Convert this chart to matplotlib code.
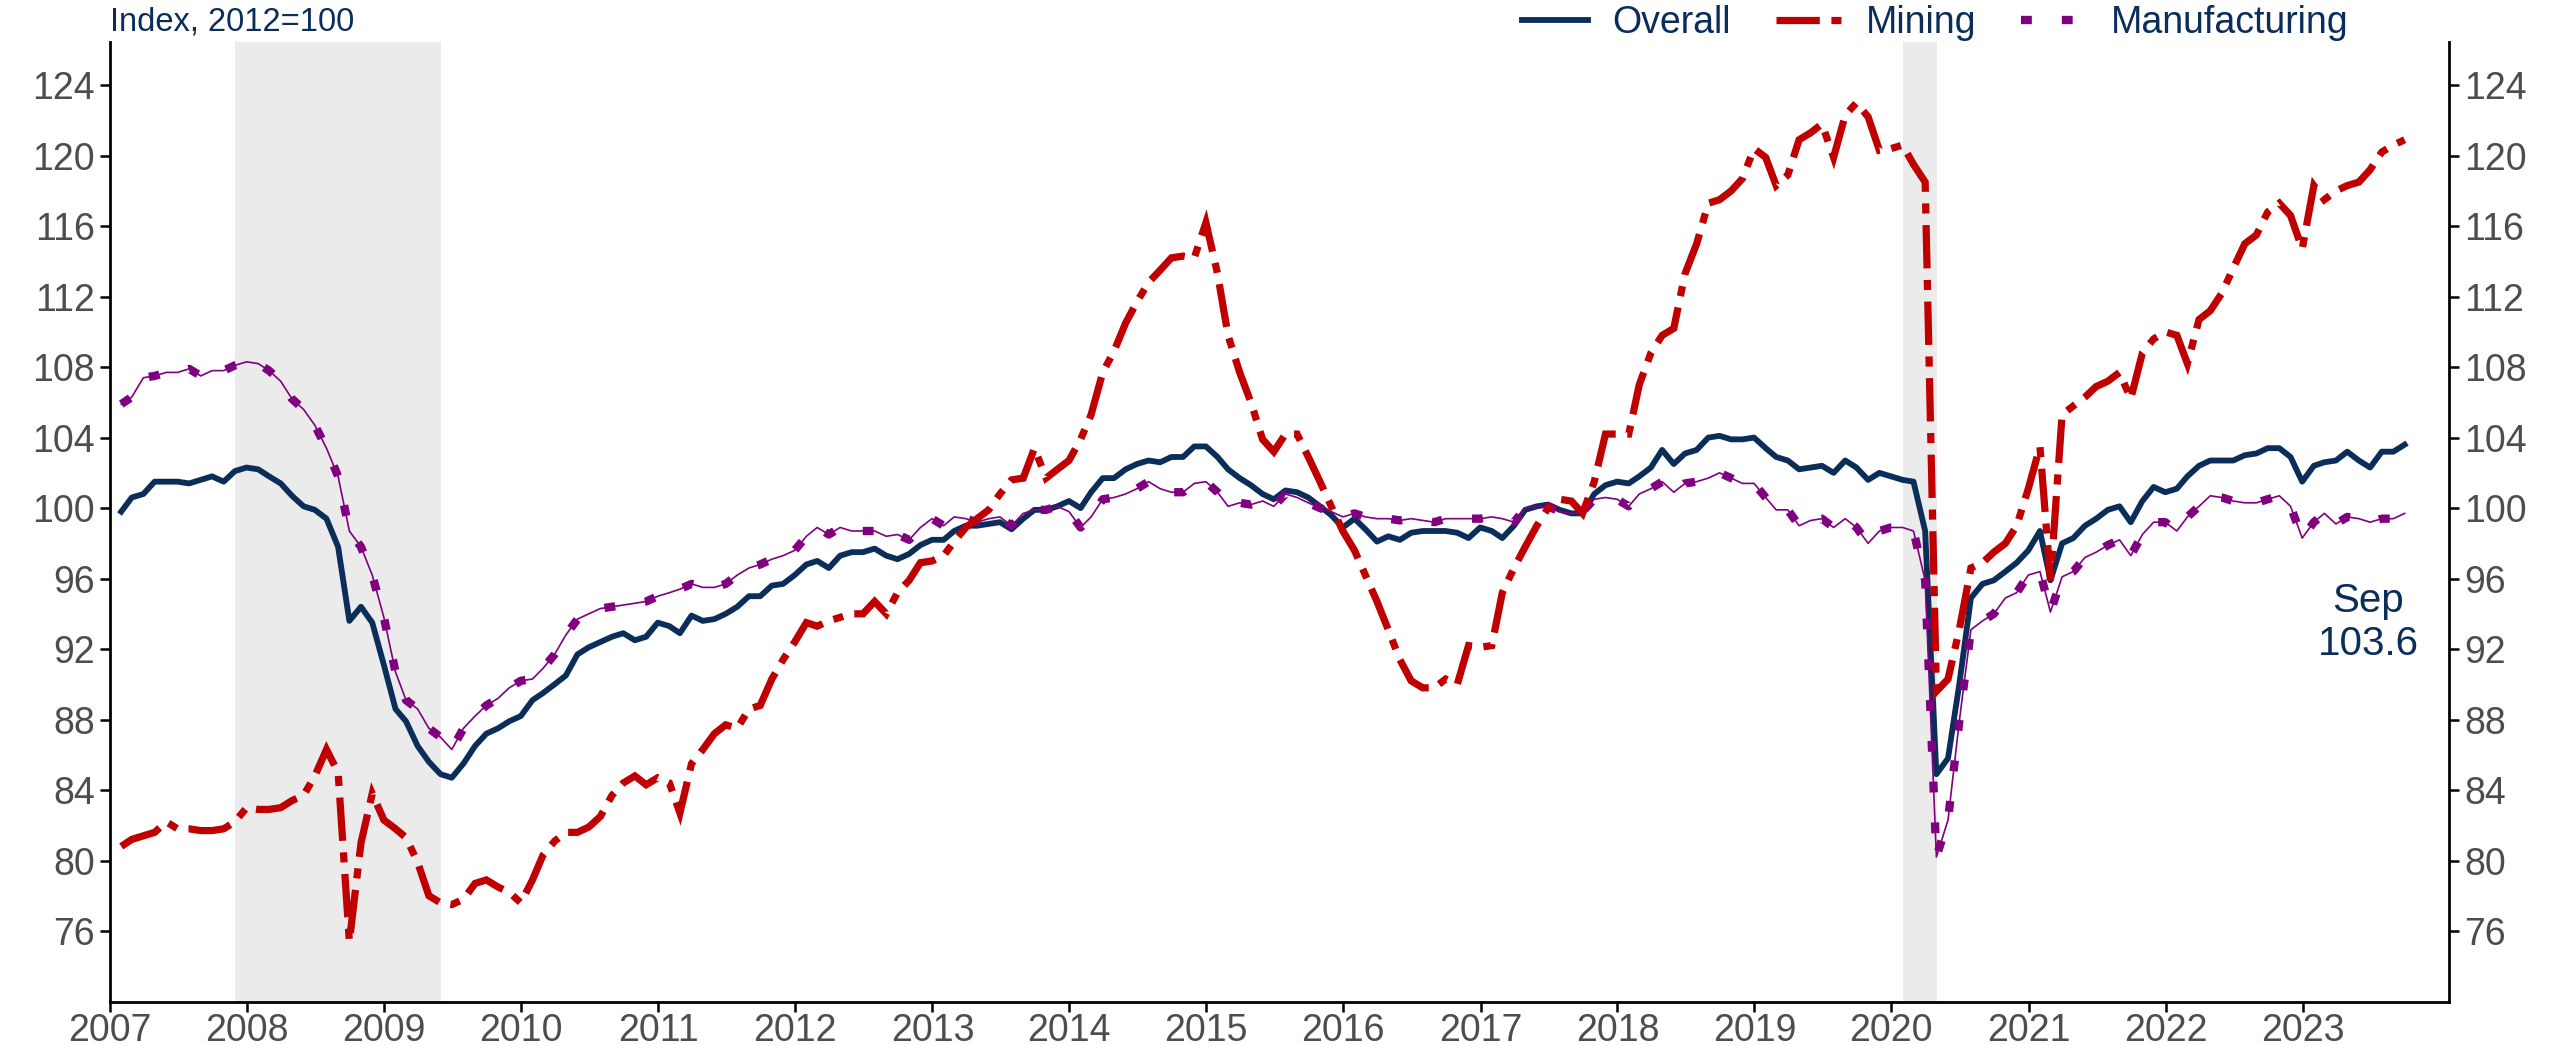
import matplotlib
matplotlib.use("Agg")
import matplotlib.pyplot as plt
import matplotlib.dates as mdates
import pandas as pd

# ---------------- data (monthly, Jan 2007 - Sep 2023) ----------------
overall = [
    99.8, 100.6, 100.8, 101.5, 101.5, 101.5, 101.4, 101.6, 101.8, 101.5, 102.1, 102.3,   # 2007
    102.2, 101.8, 101.4, 100.7, 100.1, 99.9, 99.4, 97.8, 93.6, 94.4, 93.5, 91.1,        # 2008
    88.6, 87.9, 86.5, 85.6, 84.9, 84.7, 85.5, 86.5, 87.2, 87.5, 87.9, 88.2,             # 2009
    89.1, 89.5, 90.0, 90.5, 91.7, 92.1, 92.4, 92.7, 92.9, 92.5, 92.7, 93.5,             # 2010
    93.3, 92.9, 93.9, 93.6, 93.7, 94.0, 94.4, 95.0, 95.0, 95.6, 95.7, 96.2,             # 2011
    96.8, 97.0, 96.6, 97.3, 97.5, 97.5, 97.7, 97.3, 97.1, 97.4, 97.9, 98.2,             # 2012
    98.2, 98.7, 99.0, 99.0, 99.1, 99.2, 98.8, 99.4, 99.9, 99.9, 100.1, 100.4,           # 2013
    100.0, 100.9, 101.7, 101.7, 102.2, 102.5, 102.7, 102.6, 102.9, 102.9, 103.5, 103.5, # 2014
    102.9, 102.2, 101.7, 101.3, 100.8, 100.5, 101.0, 100.9, 100.6, 100.1, 99.6, 98.9,   # 2015
    99.4, 98.8, 98.1, 98.4, 98.2, 98.6, 98.7, 98.7, 98.7, 98.6, 98.3, 98.9,             # 2016
    98.7, 98.3, 99.0, 99.9, 100.1, 100.2, 99.9, 99.7, 99.7, 100.8, 101.3, 101.5,        # 2017
    101.4, 101.8, 102.3, 103.3, 102.5, 103.1, 103.3, 104.0, 104.1, 103.9, 103.9, 104.0, # 2018
    103.4, 102.9, 102.7, 102.2, 102.3, 102.4, 102.0, 102.7, 102.3, 101.6, 102.0, 101.8, # 2019
    101.6, 101.5, 98.7, 84.9, 85.8, 90.0, 94.9, 95.7, 95.9, 96.4, 96.9, 97.6,           # 2020
    98.7, 95.9, 98.0, 98.3, 99.0, 99.4, 99.9, 100.1, 99.2, 100.4, 101.2, 100.9,         # 2021
    101.1, 101.8, 102.4, 102.7, 102.7, 102.7, 103.0, 103.1, 103.4, 103.4, 102.9, 101.5, # 2022
    102.4, 102.6, 102.7, 103.2, 102.7, 102.3, 103.2, 103.2, 103.6,                      # 2023
]

mining = [
    80.8, 81.2, 81.4, 81.6, 82.2, 81.8, 81.8, 81.7, 81.7, 81.8, 82.2, 83.0,             # 2007
    82.9, 82.9, 83.0, 83.4, 83.7, 84.8, 86.3, 85.0, 75.4, 81.0, 83.8, 82.3,             # 2008
    81.8, 81.3, 79.9, 78.0, 77.6, 77.5, 77.8, 78.7, 78.9, 78.5, 78.2, 77.6,             # 2009
    78.9, 80.3, 81.1, 81.6, 81.6, 81.9, 82.5, 83.7, 84.4, 84.8, 84.3, 84.7,             # 2010
    84.4, 82.7, 85.5, 86.3, 87.2, 87.7, 87.5, 88.6, 88.8, 90.3, 91.4, 92.4,             # 2011
    93.5, 93.3, 93.6, 93.8, 94.0, 94.0, 94.7, 94.0, 95.2, 95.9, 96.9, 97.0,             # 2012
    97.3, 98.1, 98.9, 99.4, 99.9, 100.8, 101.6, 101.7, 103.4, 101.7, 102.2, 102.7,      # 2013
    103.9, 105.3, 107.7, 108.9, 110.5, 111.7, 112.8, 113.5, 114.2, 114.3, 114.2, 116.2, # 2014
    113.3, 109.8, 107.7, 106.0, 103.9, 103.2, 104.2, 104.2, 102.9, 101.5, 100.1, 98.7,  # 2015
    97.6, 96.2, 94.7, 93.1, 91.4, 90.2, 89.8, 89.8, 90.3, 90.0, 92.2, 92.1,             # 2016
    92.2, 95.2, 96.6, 97.8, 99.0, 100.0, 100.5, 100.4, 99.7, 101.5, 104.2, 104.2,       # 2017
    104.2, 107.0, 108.8, 109.8, 110.2, 113.3, 115.0, 117.3, 117.5, 118.0, 118.7, 120.4, # 2018
    119.9, 118.3, 118.9, 120.9, 121.3, 121.8, 119.9, 122.3, 123.0, 122.2, 120.3, 120.4, # 2019
    120.6, 119.5, 118.5, 89.6, 90.3, 93.1, 96.6, 96.9, 97.5, 98.0, 99.0, 101.1,         # 2020
    103.5, 95.9, 105.3, 105.8, 106.3, 106.9, 107.2, 107.7, 106.2, 108.8, 109.6, 110.0,  # 2021
    109.8, 108.2, 110.7, 111.2, 112.2, 113.6, 115.0, 115.5, 116.8, 117.3, 116.6, 114.7, # 2022
    118.3, 117.5, 118.0, 118.3, 118.5, 119.2, 120.2, 120.6, 120.9,                      # 2023
]

manufacturing = [
    105.9, 106.3, 107.4, 107.5, 107.7, 107.7, 107.9, 107.5, 107.8, 107.8, 108.1, 108.3, # 2007
    108.2, 107.8, 107.2, 106.2, 105.6, 104.7, 103.4, 101.8, 98.7, 97.8, 96.2, 93.8,     # 2008
    90.7, 89.1, 88.6, 87.5, 87.0, 86.3, 87.5, 88.2, 88.8, 89.2, 89.8, 90.2,             # 2009
    90.3, 90.9, 91.7, 92.8, 93.7, 94.0, 94.3, 94.4, 94.5, 94.6, 94.7, 95.0,             # 2010
    95.2, 95.4, 95.7, 95.5, 95.5, 95.7, 96.2, 96.6, 96.8, 97.1, 97.3, 97.6,             # 2011
    98.4, 98.9, 98.5, 98.9, 98.7, 98.7, 98.7, 98.4, 98.5, 98.2, 98.9, 99.4,             # 2012
    99.0, 99.5, 99.4, 99.2, 99.4, 99.5, 99.0, 99.7, 99.9, 99.9, 100.1, 99.8,            # 2013
    98.9, 99.5, 100.5, 100.6, 100.8, 101.1, 101.5, 101.1, 100.9, 100.9, 101.4, 101.5,   # 2014
    100.9, 100.1, 100.3, 100.2, 100.4, 100.1, 100.8, 100.6, 100.3, 100.0, 99.8, 99.5,   # 2015
    99.7, 99.5, 99.4, 99.4, 99.3, 99.4, 99.3, 99.2, 99.4, 99.4, 99.4, 99.4,             # 2016
    99.5, 99.4, 99.2, 100.0, 100.1, 100.1, 99.8, 99.7, 99.8, 100.5, 100.6, 100.5,       # 2017
    100.1, 100.8, 101.1, 101.5, 100.9, 101.4, 101.5, 101.7, 102.0, 101.7, 101.4, 101.4, # 2018
    100.6, 99.9, 99.9, 99.0, 99.3, 99.4, 98.9, 99.4, 98.9, 98.0, 98.7, 98.9,            # 2019
    98.9, 98.7, 95.9, 80.2, 82.3, 87.9, 93.1, 93.6, 94.0, 94.9, 95.2, 96.2,             # 2020
    96.4, 94.1, 96.1, 96.4, 97.2, 97.5, 97.9, 98.2, 97.3, 98.5, 99.2, 99.2,             # 2021
    98.7, 99.5, 100.1, 100.7, 100.6, 100.4, 100.3, 100.3, 100.5, 100.7, 100.1, 98.3,    # 2022
    99.2, 99.7, 99.1, 99.5, 99.4, 99.2, 99.4, 99.4, 99.7,                               # 2023
]

dates = pd.date_range("2007-01-31", periods=len(overall), freq="ME")

recessions = [("2007-12-01", "2009-06-01"), ("2020-02-01", "2020-05-01")]
year_ticks = list(range(2007, 2024))
y_ticks = list(range(76, 125, 4))
labels = ["Overall", "Mining", "Manufacturing"]
last_label = "Sep\n103.6"

# ---------------- style ----------------
NAVY = "#0B2D5A"
RED = "#C00000"
PURPLE = "#800080"
SHADE = "#EBEBEB"
GREY = "#4D4D4D"
plt.rcParams["font.family"] = ["Liberation Sans", "DejaVu Sans"]

fig = plt.figure(figsize=(25.52, 10.45), dpi=100)
ax = fig.add_axes([0.0431, 0.0411, 0.9165, 0.9189])

for s, e in recessions:
    ax.axvspan(pd.Timestamp(s), pd.Timestamp(e), color=SHADE, lw=0, zorder=1)

l_over, = ax.plot(dates, overall, color=NAVY, lw=4.2, solid_joinstyle="round", zorder=3)
ax.plot(dates, manufacturing, color=PURPLE, lw=1.2, zorder=4)
l_manu, = ax.plot(dates, manufacturing, color=PURPLE, lw=6.0,
                  linestyle=(0, (1.3, 3.6)), dash_capstyle="butt", zorder=4)
l_mine, = ax.plot(dates, mining, color=RED, lw=5.2,
                  linestyle=(0, (6.0, 1.6, 1.4, 1.6)), dash_capstyle="butt",
                  dash_joinstyle="miter", zorder=5)

ax.set_xlim(pd.Timestamp("2007-01-01"), pd.Timestamp("2024-01-26"))
ax.set_ylim(71.97, 126.46)

ax.set_xticks([pd.Timestamp(f"{y}-01-01") for y in year_ticks])
ax.xaxis.set_major_formatter(mdates.DateFormatter("%Y"))
ax.set_yticks(y_ticks)

ax.spines["top"].set_visible(False)
for side in ("left", "right", "bottom"):
    ax.spines[side].set_linewidth(2.0)
    ax.spines[side].set_color("black")

ax.yaxis.set_ticks_position("both")
ax.tick_params(axis="y", which="both", labelright=True, labelleft=True,
               length=7, width=1.8, color="black", labelsize=27,
               labelcolor=GREY, pad=4)
ax.tick_params(axis="x", length=7, width=1.8, color="black", labelsize=27,
               labelcolor=GREY, pad=1)

fig.text(0.0431, 1 - 22 / 1045, "Index, 2012=100", color=NAVY, fontsize=23.5,
         ha="left", va="center")

ax.text(pd.Timestamp("2023-06-25"), 93.5, last_label, color=NAVY, fontsize=29,
        ha="center", va="center", linespacing=1.15, zorder=6)

leg = ax.legend([l_over, l_mine, l_manu], labels, ncol=3, frameon=False,
                loc="center left", bbox_to_anchor=(1522 / 2552, 1 - 23 / 1045),
                bbox_transform=fig.transFigure, borderaxespad=0, borderpad=0,
                fontsize=27, handlelength=1.75, handletextpad=0.65,
                columnspacing=1.2)
for t in leg.get_texts():
    t.set_color(NAVY)

fig.savefig("out.png", dpi=100, facecolor="white")
